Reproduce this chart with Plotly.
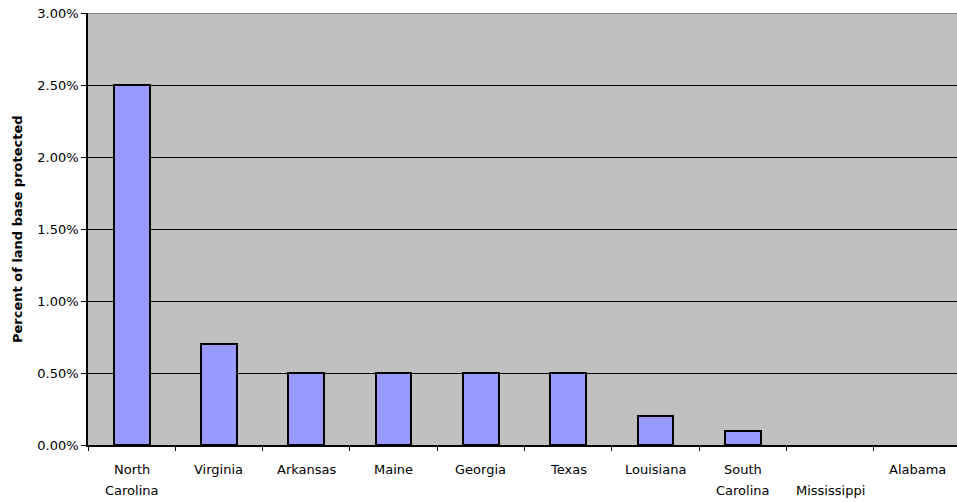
import plotly.graph_objects as go

# Share of each state's land base under protection (fraction)
states = ["North Carolina", "Virginia", "Arkansas", "Maine", "Georgia",
          "Texas", "Louisiana", "South Carolina", "Mississippi", "Alabama"]
protected_share = [0.025, 0.007, 0.005, 0.005, 0.005, 0.005, 0.002, 0.001, 0.0, 0.0]

# Category labels split over two text rows beneath the axis
label_upper = ["North", "Virginia", "Arkansas", "Maine", "Georgia",
               "Texas", "Louisiana", "South", "", "Alabama"]
label_lower = ["Carolina", "", "", "", "", "", "", "Carolina", "Mississippi", ""]

y_ticks = [0.0, 0.005, 0.01, 0.015, 0.02, 0.025, 0.03]
y_title = "Percent of land base protected"

FONT = "DejaVu Sans"

# empty bars get no outline so nothing is drawn for them
outline_widths = [2 if v > 0 else 0 for v in protected_share]

fig = go.Figure()
fig.add_trace(go.Bar(
    x=states,
    y=protected_share,
    width=0.41,
    marker=dict(color="#9999FF", line=dict(color="black", width=outline_widths)),
    hoverinfo="x+y",
))

annotations = []
for name, up, low in zip(states, label_upper, label_lower):
    if up:
        annotations.append(dict(x=name, xref="x", y=0, yref="paper", text=up,
                                showarrow=False, yanchor="middle", yshift=-24,
                                font=dict(family=FONT, size=13, color="black")))
    if low:
        annotations.append(dict(x=name, xref="x", y=0, yref="paper", text=low,
                                showarrow=False, yanchor="middle", yshift=-45,
                                font=dict(family=FONT, size=13, color="black")))

annotations.append(dict(x=0, xref="paper", xshift=-71, y=0.5, yref="paper",
                        text="<b>" + y_title + "</b>", textangle=-90,
                        showarrow=False, xanchor="center", yanchor="middle",
                        font=dict(family=FONT, size=13, color="black")))

fig.update_layout(
    width=957, height=502,
    margin=dict(l=88, r=0, t=13, b=57),
    paper_bgcolor="white",
    plot_bgcolor="#C0C0C0",
    showlegend=False,
    bargap=0,
    annotations=annotations,
    shapes=[dict(type="line", xref="paper", x0=0, x1=1, yref="y", y0=0.03, y1=0.03,
                 line=dict(color="#808080", width=2))],
)

fig.update_xaxes(
    type="category",
    range=[-0.5, 9.454],
    showticklabels=False,
    showgrid=False,
    ticks="outside", tickson="boundaries", ticklen=4, tickcolor="black", tickwidth=1,
    showline=True, linecolor="black", linewidth=1.5,
    zeroline=False,
)

fig.update_yaxes(
    range=[0, 0.03],
    tickvals=y_ticks,
    tickformat=".2%",
    tickfont=dict(family=FONT, size=13, color="black"),
    ticks="outside", ticklen=5, tickcolor="black", tickwidth=1,
    showgrid=True, gridcolor="black", gridwidth=1,
    showline=True, linecolor="black", linewidth=1.5,
    zeroline=False,
)

fig.write_html("out.html")
